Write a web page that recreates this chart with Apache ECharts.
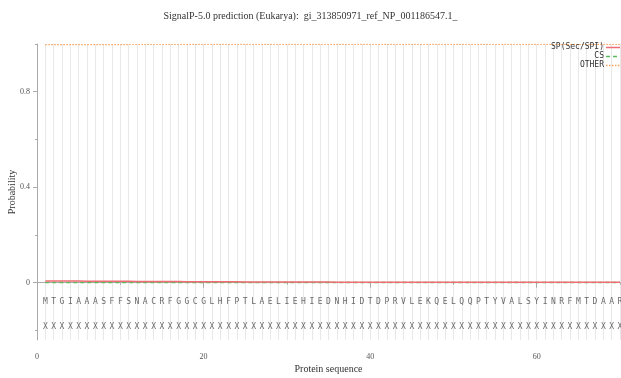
<!DOCTYPE html>
<html><head><meta charset="utf-8">
<script src="https://cdn.jsdelivr.net/npm/echarts@6/dist/echarts.min.js"></script>
<style>html,body{margin:0;padding:0;background:#fff}#c{width:621px;height:378px}</style>
</head><body><div id="c"></div>
<script>
const sequence = ['M','T','G','I','A','A','A','S','F','F','S','N','A','C','R','F','G','G','C','G','L','H','F','P','T','L','A','E','L','I','E','H','I','E','D','N','H','I','D','T','D','P','R','V','L','E','K','Q','E','L','Q','Q','P','T','Y','V','A','L','S','Y','I','N','R','F','M','T','D','A','A','R'];
const annotation = sequence.map(() => 'X');
const spValues = [0.007,0.007,0.007,0.007,0.007,0.006,0.006,0.006,0.006,0.006,0.006,0.005,0.005,0.005,0.005,0.005,0.005,0.004,0.004,0.004,0.004,0.004,0.004,0.004,0.003,0.003,0.003,0.003,0.003,0.003,0.003,0.003,0.003,0.003,0.003,0.002,0.002,0.002,0.002,0.002,0.002,0.002,0.002,0.002,0.002,0.002,0.002,0.002,0.002,0.002,0.002,0.002,0.002,0.002,0.002,0.002,0.002,0.002,0.002,0.002,0.002,0.002,0.002,0.002,0.002,0.002,0.002,0.002,0.002,0.002];
const csValues = sequence.map(() => 0.001);
const otherValues = spValues.map(v => +(0.999 - v * 0.2).toFixed(4));
const legendNames = ['SP(Sec/SPI)', 'CS', 'OTHER'];
const yMajorTicks = [0, 0.4, 0.8];
const yMinorTicks = [-0.2, 0.2, 0.6, 1];
const seqRowY = -0.08;
const annRowY = -0.185;

const pos = sequence.map((_, i) => i + 1);
const colors = ['#ee6e73', '#5cb85c', '#f7a35c'];
const dashes = ['solid', [4, 3], [1.5, 1.5]];
const chart = echarts.init(document.getElementById('c'));
const axisColor = '#aaaaaa';
const labelColor = '#555';
const legendGraphics = [];
legendNames.forEach((n, i) => {
  const y = 47 + i * 9;
  legendGraphics.push({ type: 'text', x: 604, y: y, z: 10, style: { text: n, font: '8px "DejaVu Sans Mono"', fill: '#333', align: 'right', verticalAlign: 'middle' } });
  legendGraphics.push({ type: 'line', z: 10, shape: { x1: 606, y1: y + 0.5, x2: 620, y2: y + 0.5 }, style: { stroke: colors[i], lineWidth: i === 0 ? 1.5 : 1.3, lineDash: dashes[i] === 'solid' ? null : dashes[i] } });
});
chart.setOption({
  animation: false,
  title: {
    text: 'SignalP-5.0 prediction (Eukarya):  gi_313850971_ref_NP_001186547.1_',
    left: 'center', top: 6,
    textStyle: { fontFamily: 'Liberation Serif', fontSize: 10, fontWeight: 'normal', color: '#333' }
  },
  graphic: legendGraphics,
  grid: { left: 37, right: 1, top: 44, bottom: 38, containLabel: false, outerBoundsMode: 'none' },
  xAxis: [
    {
      type: 'value', min: 0, max: 70, interval: 10, offset: 7,
      name: 'Protein sequence', nameLocation: 'middle', nameGap: 17,
      nameTextStyle: { fontFamily: 'Liberation Serif', fontSize: 10, color: '#333' },
      axisLine: { show: true, lineStyle: { color: axisColor } },
      axisTick: { show: true, length: 2, inside: false, lineStyle: { color: axisColor } },
      axisLabel: { show: false },
      splitLine: { show: true, showMinLine: false, showMaxLine: false, lineStyle: { color: '#cfcfcf' } }
    },
    {
      type: 'value', min: 0, max: 70, interval: 20, offset: 7, position: 'bottom',
      axisLine: { show: false },
      axisTick: { show: true, length: 5, lineStyle: { color: axisColor } },
      axisLabel: { show: true, margin: 6, fontFamily: 'Liberation Serif', fontSize: 8, color: labelColor, showMaxLabel: false },
      splitLine: { show: false }
    },
    {
      type: 'value', min: 0, max: 70, interval: 1, position: 'bottom',
      axisLine: { show: false }, axisTick: { show: false }, axisLabel: { show: false },
      splitLine: { show: true, showMinLine: false, lineStyle: { color: '#e8e8e8' } }
    }
  ],
  yAxis: [
    {
      type: 'value', min: -0.24, max: 1, offset: 4,
      name: 'Probability', nameLocation: 'middle', nameGap: 16, nameRotate: 90, nameMoveOverlap: false,
      nameTextStyle: { fontFamily: 'Liberation Serif', fontSize: 10, color: '#333' },
      axisLine: { show: true, lineStyle: { color: axisColor } },
      axisTick: { show: true, length: 4, customValues: yMajorTicks, lineStyle: { color: axisColor } },
      axisLabel: { show: true, customValues: yMajorTicks, margin: 3, fontFamily: 'Liberation Serif', fontSize: 8, color: labelColor, formatter: v => String(+v.toFixed(1)) },
      splitLine: { show: false }
    },
    {
      type: 'value', min: -0.24, max: 1, offset: 4, position: 'left',
      axisLine: { show: false },
      axisTick: { show: true, length: 2, customValues: yMinorTicks, lineStyle: { color: axisColor } },
      axisLabel: { show: false }, splitLine: { show: false }
    }
  ],
  series: [
    { name: legendNames[0], type: 'line', xAxisIndex: 0, yAxisIndex: 0, symbol: 'none',
      data: pos.map((p, i) => [p, spValues[i]]), lineStyle: { color: colors[0], width: 1.5 }, z: 4 },
    { name: legendNames[1], type: 'line', xAxisIndex: 0, yAxisIndex: 0, symbol: 'none',
      data: pos.map((p, i) => [p, csValues[i]]), lineStyle: { color: colors[1], width: 1.5, type: dashes[1] }, z: 3 },
    { name: legendNames[2], type: 'line', xAxisIndex: 0, yAxisIndex: 0, symbol: 'none',
      data: pos.map((p, i) => [p, otherValues[i]]), lineStyle: { color: colors[2], width: 1.2, type: dashes[2] }, z: 3 },
    { type: 'scatter', xAxisIndex: 0, yAxisIndex: 0, symbolSize: 0, silent: true,
      data: pos.map((p, i) => ({ value: [p, seqRowY], name: sequence[i] })),
      label: { show: true, position: 'inside', formatter: d => d.name, fontFamily: 'DejaVu Sans Mono', fontSize: 8, color: '#444' } },
    { type: 'scatter', xAxisIndex: 0, yAxisIndex: 0, symbolSize: 0, silent: true,
      data: pos.map((p, i) => ({ value: [p, annRowY], name: annotation[i] })),
      label: { show: true, position: 'inside', formatter: d => d.name, fontFamily: 'DejaVu Sans Mono', fontSize: 8, color: '#444' } }
  ]
});
</script></body></html>
